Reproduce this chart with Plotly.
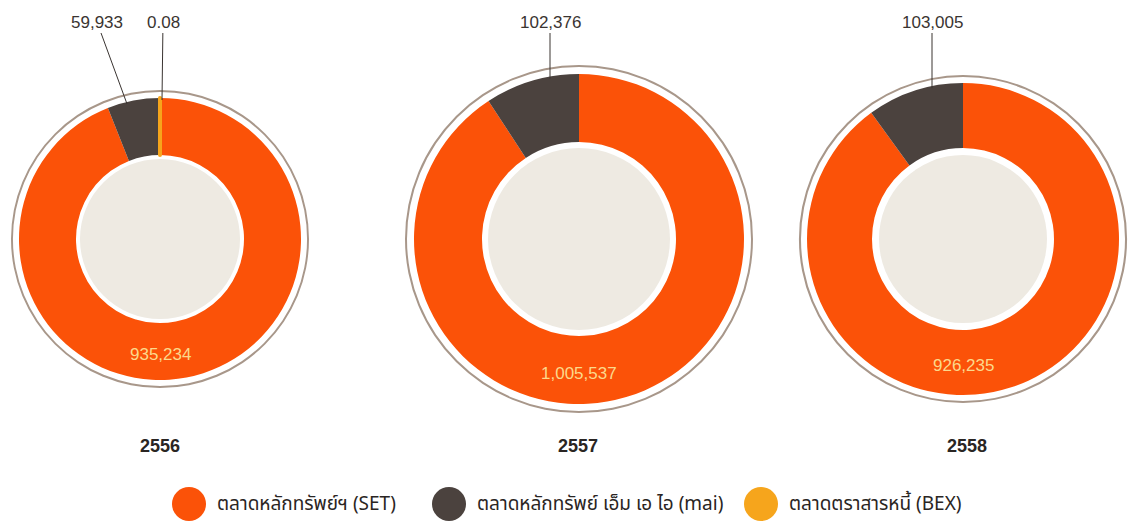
import plotly.graph_objects as go

# values (units as printed)
years = ["2556", "2557", "2558"]
set_vals = [935234, 1005537, 926235]
mai_vals = [59933, 102376, 103005]
bex_vals = [0.08, 0, 0]

set_text = ["935,234", "1,005,537", "926,235"]
mai_text = ["59,933", "102,376", "103,005"]
bex_text = ["0.08", None, None]

series_names = ["ตลาดหลักทรัพย์ฯ (SET)", "ตลาดหลักทรัพย์ เอ็ม เอ ไอ (mai)", "ตลาดตราสารหนี้ (BEX)"]
colors = ["#fb5208", "#4b423e", "#f6a51c"]

W, H = 1128, 522

# layout of the three donuts (pixels)
cx = [160, 579, 963]
cy = [239, 239, 239]
r_pie = [141, 165, 156]
r_hole = [84, 97, 91]
r_disc = [80, 91, 84]
r_ring = [149, 174, 164]
year_x = [160, 578, 967]

# where the outside labels sit, and the x at which their leader line meets the ring
mai_lbl = [(97, 22, 127), (550, 22, 550), (932, 22, 932)]
bex_lbl = [(163, 22, 162), None, None]


def dom(x, y, r):
    return dict(x=[(x - r) / W, (x + r) / W], y=[1 - (y + r) / H, 1 - (y - r) / H])


def tip(i, x):
    # point just inside the outer edge of donut i at horizontal position x
    dx = x - cx[i]
    return x, cy[i] - (r_pie[i] ** 2 - dx ** 2) ** 0.5 + 2


fig = go.Figure()
num_font = dict(family="Liberation Sans, Arial, sans-serif", size=17, color="#3a3431")

for i in range(3):
    # thin outer ring
    fig.add_trace(go.Pie(
        values=[1], domain=dom(cx[i], cy[i], r_ring[i]), hole=(r_ring[i] - 2) / r_ring[i],
        marker=dict(colors=["#a8978a"]), textinfo="none", hoverinfo="skip",
        showlegend=False, sort=False,
    ))
    # the donut itself
    vals = [set_vals[i], mai_vals[i], bex_vals[i]]
    fig.add_trace(go.Pie(
        values=vals, labels=series_names, domain=dom(cx[i], cy[i], r_pie[i]),
        hole=r_hole[i] / r_pie[i], sort=False, direction="clockwise", rotation=0,
        marker=dict(colors=colors, line=dict(color=colors, width=[0, 0, 4 if bex_vals[i] else 0])),
        textinfo="none", showlegend=False, name=years[i],
    ))
    # beige centre
    fig.add_trace(go.Pie(
        values=[1], domain=dom(cx[i], cy[i], r_disc[i]),
        marker=dict(colors=["#eeeae2"]), textinfo="none", hoverinfo="skip",
        showlegend=False, sort=False,
    ))

    # SET value inside the ring, at the bottom
    fig.add_annotation(x=cx[i], y=cy[i] + (r_pie[i] + r_hole[i]) / 2 + 3, text=set_text[i],
                       showarrow=False, font=dict(family=num_font["family"], size=17, color="#fbd98c"))
    # mai label with leader line
    lx, ly, tx = mai_lbl[i]
    px, py = tip(i, tx)
    fig.add_annotation(x=px, y=py, ax=lx, ay=ly, axref="x", ayref="y", text=mai_text[i],
                       showarrow=True, arrowhead=0, arrowwidth=1, arrowcolor="#3a3431",
                       font=num_font)
    if bex_lbl[i]:
        lx, ly, tx = bex_lbl[i]
        px, py = tip(i, tx)
        fig.add_annotation(x=px, y=py, ax=lx, ay=ly, axref="x", ayref="y", text=bex_text[i],
                           showarrow=True, arrowhead=0, arrowwidth=1, arrowcolor="#3a3431",
                           font=num_font)
    # year
    fig.add_annotation(x=year_x[i], y=446, text=f"<b>{years[i]}</b>", showarrow=False,
                       font=dict(family="Liberation Sans, Arial, sans-serif", size=18, color="#2a2523"))

# hand-made legend with large round swatches
leg_x = [189, 449, 761]
leg_y = 504
fig.add_trace(go.Scatter(
    x=leg_x, y=[leg_y] * 3, mode="markers",
    marker=dict(size=34, color=colors, line=dict(width=0)),
    hoverinfo="skip", showlegend=False, cliponaxis=False,
))
for x, name in zip(leg_x, series_names):
    fig.add_annotation(x=x + 26, y=leg_y, text=name, showarrow=False, xanchor="left",
                       font=dict(family="Noto Sans Thai, Loma, Garuda, sans-serif", size=19, color="#2a2523"))

fig.update_layout(
    width=W, height=H,
    margin=dict(l=0, r=0, t=0, b=0),
    paper_bgcolor="white", plot_bgcolor="white",
    xaxis=dict(range=[0, W], visible=False, fixedrange=True),
    yaxis=dict(range=[H, 0], visible=False, fixedrange=True),
    showlegend=False,
)

fig.write_html("out.html", config={"displayModeBar": False},
               post_script="document.body.style.margin='0';")
